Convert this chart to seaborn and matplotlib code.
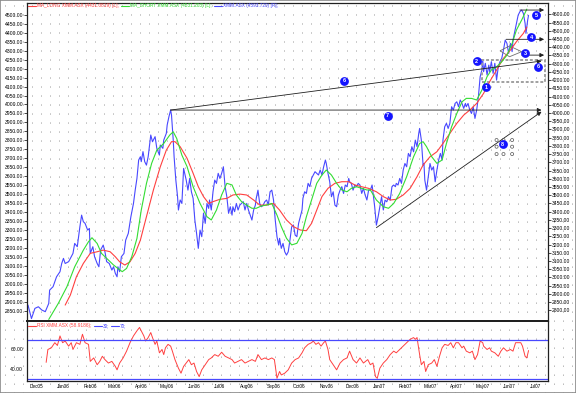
import numpy as np
import pandas as pd
import matplotlib
matplotlib.use("Agg")
import matplotlib.pyplot as plt
import matplotlib.dates as mdates
from matplotlib.patches import Rectangle, Polygon
from matplotlib.lines import Line2D
from matplotlib.ticker import FormatStrFormatter, NullFormatter
import seaborn as sns

sns.set_theme(style="white")
plt.rcParams['font.family'] = ['Liberation Sans', 'DejaVu Sans']

# ---------------- data (days counted from START) ----------------
START = "2005-12-01"

price_days = [0,4,8,12,16,20,24,25,29,33,37,39,41,43,47,50,52,54,57,60,62,64,66,69,71,72,75,77,80,82,
              84,87,89,91,94,97,99,101,103,104,106,108,111,113,116,119,122,124,126,128,130,131,133,135,137,139,142,144,147,149,
              152,153,156,157,160,161,163,165,166,168,169,171,173,174,
              176,178,180,183,185,187,189,191,193,195,197,199,201,203,205,207,209,210,212,214,
              216,218,220,222,224,226,228,230,232,234,236,237,239,241,243,245,247,249,251,253,
              255,257,259,261,263,264,266,268,270,272,274,276,278,280,282,284,286,288,290,291,
              293,295,297,299,301,303,305,307,309,311,313,315,317,318,320,322,324,326,328,330,
              332,334,336,338,340,342,344,345,347,349,351,353,355,357,359,361,363,365,367,369,
              371,372,374,376,378,380,382,384,386,388,390,392,394,
              396,398,399,401,403,405,407,409,411,413,415,417,419,421,423,425,426,428,430,432,
              434,436,438,440,442,444,446,448,450,452,453,455,457,458,459,461,463,465,467,469,
              471,473,475,477,479,480,482,484,486,488,490,492,494,496,498,500,502,504,506,507,
              509,511,513,515,517,519,521,523,525,526,527,529,531,533,534,536,538,540,542,544,
              546,548,550,552,554,556,558,560,561,563,565,567,569,571,573,575,576,578,579]
price_vals = [2832,2750,2812,2822,2802,2792,2842,2923,2944,3004,3035,3085,3116,3085,3096,3126,3146,3207,3187,3308,
              3379,3339,3329,3288,3298,3146,3187,3126,3085,3065,3167,3197,3156,3096,3085,3045,3065,3025,3004,3065,
              3035,3126,3146,3227,3268,3369,3450,3531,3602,3714,3734,3704,3765,3704,3683,3734,3866,3825,3856,3785,
              3744,3805,3785,3835,3876,3927,3977,4018,3987,3835,3734,3592,3491,3410,
              3471,3450,3663,3592,3531,3602,3521,3481,3349,3268,3177,3288,3248,3390,3329,3450,3420,3471,3410,3521,
              3592,3572,3633,3602,3633,3673,3552,3491,3390,3430,3379,3430,3400,3450,3410,3440,3450,3461,3410,3450,
              3410,3379,3349,3410,3440,3481,3531,3450,3430,3440,3461,3471,3440,3521,3531,3471,3349,3248,3197,3238,
              3177,3207,3156,3136,3156,3227,3308,3319,3258,3248,3329,3369,3410,3481,3521,3511,3572,3552,3602,3623,
              3643,3633,3623,3653,3623,3673,3714,3694,3633,3582,3491,3521,3440,3430,3501,3531,3552,3511,3562,3552,
              3602,3582,3572,3531,3562,3552,3572,3562,3511,3542,3501,3471,3531,
              3531,3562,3521,3430,3318,3369,3430,3491,3410,3470,3460,3491,3470,3552,3562,3552,3572,3562,3602,3572,
              3653,3693,3673,3754,3734,3795,3764,3835,3795,3876,3906,3835,3683,3693,3592,3531,3612,3693,3653,3673,
              3582,3653,3714,3754,3714,3835,3916,3937,3906,3937,4038,4018,4058,4068,4038,4079,4058,4028,4058,4038,
              4058,4018,3997,4038,3967,4018,4099,4220,4261,4322,4251,4302,4231,4291,4251,4312,4241,4302,4200,4281,
              4312,4332,4383,4443,4423,4362,4423,4373,4443,4494,4545,4595,4616,4626,4606,4545,4484,4565,4593.72]

ma_short_days = [24,35,45,54,64,70,74,80,85,91,99,104,109,114,120,126,131,137,143,149,157,164,168,172,
                 178,184,191,199,207,212,218,224,230,236,241,247,253,259,264,270,276,282,288,293,299,305,311,317,
                 322,328,334,340,345,351,357,363,369,374,380,386,392,
                 396,403,411,417,423,430,438,446,453,457,461,467,473,479,484,490,496,502,507,513,519,525,531,536,
                 542,548,554,560,565,571,577]
ma_short_vals = [2803,2892,2985,3096,3189,3236,3258,3226,3171,3143,3106,3087,3069,3087,3152,3254,3412,3560,3672,3746,3783,3830,3848,3811,
                 3718,3654,3542,3449,3375,3357,3412,3496,3561,3552,3496,3459,3440,3422,3422,3435,3440,3449,3384,3320,3255,3218,3227,3282,
                 3375,3468,3561,3607,3635,3607,3561,3524,3514,3533,3542,3533,3524,
                 3524,3468,3431,3422,3449,3505,3598,3709,3783,3793,3765,3709,3672,3691,3783,3876,3950,4015,4034,4034,4025,4080,4155,4192,
                 4210,4238,4275,4340,4415,4470,4531.203]

ma_long_days = [43,49,56,64,72,80,87,95,101,106,112,118,124,130,137,145,153,160,166,170,
                176,184,191,197,203,209,214,222,230,237,245,253,261,268,276,284,291,299,307,315,322,328,334,340,347,355,363,371,378,386,394,
                403,411,419,426,434,442,450,457,465,473,480,488,496,504,511,519,527,534,542,550,558,565,573,577]
ma_long_vals = [2883,2939,3041,3115,3171,3180,3189,3180,3152,3124,3106,3124,3171,3245,3375,3523,3653,3746,3793,3793,
                3765,3700,3617,3542,3487,3449,3459,3472,3477,3496,3501,3496,3468,3440,3440,3449,3412,3357,3320,3301,3297,3338,3412,3487,3533,3561,3570,3570,3552,3542,3533,
                3514,3487,3468,3472,3496,3533,3598,3663,3709,3737,3783,3839,3895,3941,3969,4006,4062,4127,4192,4257,4303,4350,4396,4431.0819]

rsi_days = [21,23,27,31,34,37,40,43,47,50,52,56,60,63,66,70,72,76,80,83,86,89,93,97,101,103,106,110,114,118,
            122,126,129,131,134,136,139,142,144,147,149,152,155,157,159,162,165,167,170,174,177,180,183,186,189,192,195,198,201,205,
            209,212,216,220,224,228,232,236,239,243,247,251,255,259,263,266,270,274,278,282,285,288,291,293,297,301,305,309,313,
            317,320,324,328,330,333,336,339,342,344,347,349,353,357,361,365,369,372,376,380,384,388,393,396,399,402,404,407,411,415,
            419,423,426,430,434,438,442,446,448,450,453,455,458,460,463,467,470,473,476,479,482,486,489,492,495,498,502,504,507,511,
            514,517,520,523,526,527,531,534,536,540,544,547,550,554,558,561,564,567,570,572,575,577,579]
rsi_vals = [46.9,60,61.7,66.9,64.1,73.8,66.9,68.6,63.4,66.9,60,66.9,65.2,75.5,66.9,65.2,47.9,51.4,44.5,47.9,53.1,49.7,46.2,47.9,42.8,39.3,46.2,51.4,58.3,66.9,
            73.8,79,82.4,79,73.8,68.6,72.1,77.2,72.1,65.2,68.6,56.6,60,54.8,61.7,65.2,63.4,58.3,49.7,41,35.9,42.8,46.2,49.7,44.5,46.2,37.6,32.4,39.3,44.5,
            49.7,51.4,54.8,53.1,57.2,53.1,51.4,49.7,46.2,47.9,49.7,46.2,47.9,49.7,47.9,54.8,49.7,51.4,49.7,51.4,49.7,30.7,37.6,34.1,35.9,39.3,46.2,49.7,51.4,
            56.6,61.7,65.2,66.9,68.6,65.2,66.9,63.4,66.9,68.6,60,49.7,44.5,39.3,46.2,49.7,51.4,58.3,49.7,46.2,51.4,46.2,49.7,44.5,46.2,32.4,30.7,41,46.2,49.7,
            54.8,58.3,56.6,60,63.4,66.9,70.3,72.1,70.3,72.1,54.8,44.5,47.9,37.6,44.5,46.2,49.7,42.8,53.1,61.7,65.2,64.1,66.9,61.7,66.9,66.9,61.7,63.4,58.3,56.6,
            58.3,49.7,54.8,68.6,66.9,63.4,60,61.7,58.3,56.6,53.1,58.3,61.7,58.3,60,58.3,66.9,66.9,66.9,63.4,53.1,51.4,58.9186]
rsi_levels = [30, 70]

# drawn annotations (left-axis units): start day, start value, end day, end value
trend_lines = [(165, 3969, 594, 4242), (165, 3969, 594, 3969), (403, 3314, 594, 3960)]
level_arrows = [(569, 4526, 597, 4526), (553, 4363, 597, 4363), (571, 4275, 597, 4275)]
box_days = [525, 598]
box_vals = [4127, 4248]
diamond_days = [546, 557, 571, 557]
diamond_vals = [4299, 4326, 4294, 4266]
circle_days = [542, 550, 560, 542, 560, 542, 550, 560]
circle_vals = [3802, 3802, 3802, 3765, 3765, 3724, 3724, 3724]
badge_labels = ["6", "7", "8", "2", "1", "3", "4", "5", "6"]
badge_days = [366, 416, 549, 519, 530, 575, 582, 588, 590]
badge_vals = [4131, 3937, 3778, 4242, 4096, 4285, 4374, 4498, 4210]

left_ticks = np.arange(2850, 4501, 50)
right_ticks = np.arange(2800, 4601, 50)
rsi_ticks = [40, 60]

# ---------------- helpers ----------------
def to_dates(days):
    return pd.Timestamp(START) + pd.to_timedelta(np.asarray(days, dtype=float), unit="D")

def dnum(day):
    return mdates.date2num(pd.Timestamp(START) + pd.Timedelta(days=float(day)))

RED = "#ff4040"
GREEN = "#33dd33"
BLUE = "#4848ff"
DARK = "#202020"

W, H = 576, 393
fig = plt.figure(figsize=(W / 100, H / 100), dpi=100)
def fx(p): return p / W
def fy(p): return 1 - p / H

# background dot lattice + outer border
bg = fig.add_axes([0, 0, 1, 1], zorder=-10)
bg.set_xlim(0, W)
bg.set_ylim(H, 0)
bg.set_xticks(np.arange(4.5, W, 9))
bg.set_yticks([])
bg.grid(True, axis='x', color='#7a7a7a', linestyle=(0, (0.8, 8.46)), linewidth=0.7)
bg.tick_params(length=0, labelbottom=False, labelleft=False)
for s in bg.spines.values():
    s.set_color('#8a8a8a'); s.set_linewidth(1.2)
bg.set_facecolor('white')

xlim = (dnum(-1.16), dnum(601.5))

# main panel
ax = fig.add_axes([fx(27), fy(321), fx(548) - fx(27), fy(2.5) - fy(321)])
ax.set_facecolor('none')
ax2 = ax.twinx()
ax.set_zorder(3); ax2.set_zorder(2)
ax.patch.set_visible(False)

sns.lineplot(x=to_dates(price_days), y=price_vals, ax=ax2, color=BLUE, linewidth=0.8, estimator=None, errorbar=None)
sns.lineplot(x=to_dates(ma_long_days), y=ma_long_vals, ax=ax, color=RED, linewidth=0.8, estimator=None, errorbar=None)
sns.lineplot(x=to_dates(ma_short_days), y=ma_short_vals, ax=ax, color=GREEN, linewidth=0.8, estimator=None, errorbar=None)

ax.set_xlim(*xlim); ax2.set_xlim(*xlim)
ax.set_ylim(2794.3, 4568)
ax2.set_ylim(2735.3, 4671.7)
ax.set_yticks(left_ticks)
ax2.set_yticks(right_ticks)
ax.yaxis.set_major_formatter(FormatStrFormatter('%.2f'))
ax2.yaxis.set_major_formatter(FormatStrFormatter('%.2f'))
for a in (ax, ax2):
    a.set_xlabel(''); a.set_ylabel('')
    a.tick_params(axis='x', which='both', bottom=False, top=False, labelbottom=False)
    a.tick_params(axis='y', length=2, width=0.5, pad=0.8, labelsize=3.6, colors='black', direction='out')
    a.grid(False)
for s in ax.spines.values():
    s.set_color(DARK); s.set_linewidth(0.9)
ax.spines['bottom'].set_linewidth(1.4)
for s in ax2.spines.values():
    s.set_visible(False)

# annotations
for (d0, v0, d1, v1) in trend_lines + level_arrows:
    ax.annotate('', xy=(dnum(d1), v1), xytext=(dnum(d0), v0),
                arrowprops=dict(arrowstyle='-|>', color=DARK, lw=0.6, mutation_scale=6, shrinkA=0, shrinkB=0))
ax.add_patch(Rectangle((dnum(box_days[0]), box_vals[0]), dnum(box_days[1]) - dnum(box_days[0]),
                       box_vals[1] - box_vals[0], fill=False, edgecolor='#a0a0a0',
                       linestyle=(0, (1.5, 1)), linewidth=1.4))
ax.add_patch(Polygon(list(zip([dnum(d) for d in diamond_days], diamond_vals)), closed=True, fill=False,
                     edgecolor='#707070', linewidth=0.6))
ax.scatter([dnum(d) for d in circle_days], circle_vals, s=5, facecolors='none', edgecolors='#555555', linewidths=0.5, zorder=4)
ax.scatter([dnum(d) for d in badge_days], badge_vals, s=40, color='#1414ff', zorder=6, linewidths=0)
for lab, d, v in zip(badge_labels, badge_days, badge_vals):
    ax.text(dnum(d), v, lab, color='white', fontsize=4, fontweight='bold', ha='center', va='center', zorder=7)

# RSI panel
rax = fig.add_axes([fx(27), fy(381), fx(548) - fx(27), fy(321) - fy(381)])
rax.set_facecolor('none')
sns.lineplot(x=to_dates(rsi_days), y=rsi_vals, ax=rax, color=RED, linewidth=0.7, estimator=None, errorbar=None)
for lv in rsi_levels:
    rax.axhline(lv, color=BLUE, linewidth=0.9)
rax.set_xlim(*xlim)
rax.set_ylim(27.94, 88.96)
rax.set_yticks(rsi_ticks)
rax.yaxis.set_major_formatter(FormatStrFormatter('%.2f'))
rax.set_xlabel(''); rax.set_ylabel('')
rax.grid(False)
rax.xaxis.set_major_locator(mdates.MonthLocator())
rax.xaxis.set_major_formatter(NullFormatter())
rax.xaxis.set_minor_locator(mdates.MonthLocator(bymonthday=11))
rax.xaxis.set_minor_formatter(mdates.DateFormatter('%b%y'))
rax.tick_params(axis='x', which='major', length=2, width=0.5, direction='out', color=DARK)
rax.tick_params(axis='x', which='minor', length=0, labelsize=3.4, pad=2.2, colors='black')
rax.tick_params(axis='y', length=2, width=0.5, pad=0.8, labelsize=3.6, colors='black', direction='out')
for s in rax.spines.values():
    s.set_color(DARK); s.set_linewidth(0.9)
rax.spines['top'].set_linewidth(1.4)

# legend rows
renderer = fig.canvas.get_renderer()
def legend_row(items, x0, y0):
    x = x0
    for label, color in items:
        fig.add_artist(Line2D([fx(x), fx(x + 8)], [fy(y0), fy(y0)], color=color, lw=0.8,
                              transform=fig.transFigure))
        t = fig.text(fx(x + 9), fy(y0), label, color=color, fontsize=3.4, va='center', ha='left')
        bb = t.get_window_extent(renderer)
        x = x + 9 + bb.width + 2

legend_row([(f"MA_LONG XMM.ASX ({ma_long_vals[-1]:.4f}) [L];", RED),
            (f"MA_SHORT XMM.ASX ({ma_short_vals[-1]:.3f}) [L];", GREEN),
            (f"XMM.ASX ({price_vals[-1]:.3f}) [R];", BLUE)], 28, 6)
legend_row([(f"RSI XMM.ASX ({rsi_vals[-1]:.4f});", RED),
            (f"{rsi_levels[0]};", BLUE),
            (f"{rsi_levels[1]};", BLUE)], 28, 325.5)

fig.savefig("out.png", dpi=100)
